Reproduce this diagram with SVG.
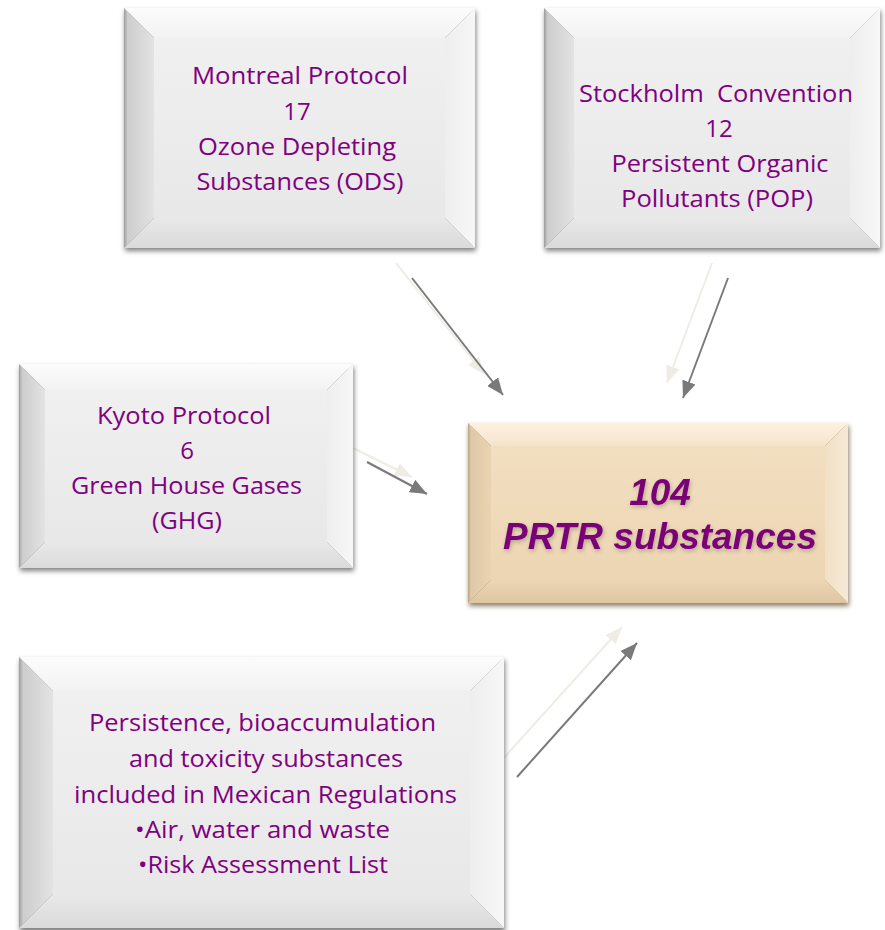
<svg xmlns="http://www.w3.org/2000/svg" width="885" height="930" viewBox="0 0 885 930">
<style>
.t{font-family:"Open Sans","Noto Sans","Liberation Sans",sans-serif;font-size:24px;fill:#800080;text-anchor:middle;white-space:pre}
.b{font-family:"Liberation Sans",Arial,sans-serif;font-size:37px;font-weight:bold;font-style:italic;fill:#7a0078;text-anchor:middle}
.dk{stroke:#7a7a7a;stroke-width:2;fill:none;marker-end:url(#ad)}
.lt{stroke:#efece5;stroke-width:2;fill:none;marker-end:url(#al)}
</style>
<defs>
<filter id="sh" x="-10%" y="-10%" width="120%" height="120%"><feGaussianBlur stdDeviation="2.5"/></filter>
<filter id="ts" x="-10%" y="-20%" width="120%" height="140%"><feGaussianBlur in="SourceAlpha" stdDeviation="2"/><feOffset dx="1" dy="2"/><feComponentTransfer><feFuncA type="linear" slope="0.25"/></feComponentTransfer><feMerge><feMergeNode/><feMergeNode in="SourceGraphic"/></feMerge></filter>
<linearGradient id="gT" x1="0" y1="0" x2="0" y2="1"><stop offset="0" stop-color="#fcfcfc"/><stop offset="1" stop-color="#f2f2f2"/></linearGradient>
<linearGradient id="gL" x1="0" y1="0" x2="1" y2="0"><stop offset="0" stop-color="#9c9c9c"/><stop offset="0.12" stop-color="#cdcdcd"/><stop offset="1" stop-color="#e3e3e3"/></linearGradient>
<linearGradient id="gB" x1="0" y1="0" x2="0" y2="1"><stop offset="0" stop-color="#e9e9e9"/><stop offset="1" stop-color="#dadada"/></linearGradient>
<linearGradient id="gR" x1="0" y1="0" x2="1" y2="0"><stop offset="0" stop-color="#eeeeee"/><stop offset="1" stop-color="#f7f7f7"/></linearGradient>
<linearGradient id="gF" x1="0" y1="0" x2="0" y2="1"><stop offset="0" stop-color="#f0f0f0"/><stop offset="1" stop-color="#e8e8e8"/></linearGradient>
<linearGradient id="tT" x1="0" y1="0" x2="0" y2="1"><stop offset="0" stop-color="#fcf1e1"/><stop offset="1" stop-color="#f5e4cb"/></linearGradient>
<linearGradient id="tL" x1="0" y1="0" x2="1" y2="0"><stop offset="0" stop-color="#b8a282"/><stop offset="0.12" stop-color="#dfc8a5"/><stop offset="1" stop-color="#ead3b0"/></linearGradient>
<linearGradient id="tB" x1="0" y1="0" x2="0" y2="1"><stop offset="0" stop-color="#ecd6b5"/><stop offset="1" stop-color="#dec6a2"/></linearGradient>
<linearGradient id="tR" x1="0" y1="0" x2="1" y2="0"><stop offset="0" stop-color="#f1e0c6"/><stop offset="1" stop-color="#f6e9d5"/></linearGradient>
<linearGradient id="tF" x1="0" y1="0" x2="0" y2="1"><stop offset="0" stop-color="#f2dfc1"/><stop offset="1" stop-color="#ecd5b2"/></linearGradient>
<marker id="ad" viewBox="0 0 10 10" refX="10" refY="5" markerWidth="17" markerHeight="14" markerUnits="userSpaceOnUse" orient="auto" preserveAspectRatio="none"><path d="M0,0 L10,5 L0,10z" fill="#7a7a7a"/></marker>
<marker id="al" viewBox="0 0 10 10" refX="10" refY="5" markerWidth="17" markerHeight="14" markerUnits="userSpaceOnUse" orient="auto" preserveAspectRatio="none"><path d="M0,0 L10,5 L0,10z" fill="#efece5"/></marker>
</defs>
<rect width="885" height="930" fill="#ffffff"/>

<g id="connectors">
<line class="lt" x1="396" y1="263" x2="484" y2="374"/>
<line class="dk" x1="412" y1="278" x2="503" y2="395"/>
<line class="lt" x1="712" y1="263" x2="667" y2="383"/>
<line class="dk" x1="728" y1="278" x2="683" y2="398"/>
<line class="lt" x1="353" y1="448" x2="412" y2="477"/>
<line class="dk" x1="367" y1="462" x2="427" y2="494"/>
<line class="lt" x1="502" y1="760" x2="622" y2="627"/>
<line class="dk" x1="517" y1="777" x2="637" y2="643"/>
</g>

<g id="montreal">
<rect x="125" y="11" width="351" height="240" fill="#808080" filter="url(#sh)"/>
<polygon points="124,8 475,8 445,38 154,38" fill="url(#gT)"/>
<polygon points="124,248 475,248 445,218 154,218" fill="url(#gB)"/>
<polygon points="124,8 154,38 154,218 124,248" fill="url(#gL)"/>
<polygon points="475,8 445,38 445,218 475,248" fill="url(#gR)"/>
<rect x="154" y="38" width="291" height="180" fill="url(#gF)"/>
<text class="t" x="300" y="84" textLength="216" lengthAdjust="spacingAndGlyphs">Montreal Protocol</text>
<text class="t" x="297" y="120">17</text>
<text class="t" x="297" y="155" textLength="198" lengthAdjust="spacingAndGlyphs">Ozone Depleting</text>
<text class="t" x="300" y="190" textLength="207" lengthAdjust="spacingAndGlyphs">Substances (ODS)</text>
</g>

<g id="stockholm">
<rect x="545" y="11" width="336" height="240" fill="#808080" filter="url(#sh)"/>
<polygon points="544,8 880,8 850,38 574,38" fill="url(#gT)"/>
<polygon points="544,248 880,248 850,218 574,218" fill="url(#gB)"/>
<polygon points="544,8 574,38 574,218 544,248" fill="url(#gL)"/>
<polygon points="880,8 850,38 850,218 880,248" fill="url(#gR)"/>
<rect x="574" y="38" width="276" height="180" fill="url(#gF)"/>
<text class="t" x="716" y="102" textLength="274" lengthAdjust="spacingAndGlyphs">Stockholm  Convention</text>
<text class="t" x="719" y="137">12</text>
<text class="t" x="720" y="172" textLength="217" lengthAdjust="spacingAndGlyphs">Persistent Organic</text>
<text class="t" x="717" y="207" textLength="192" lengthAdjust="spacingAndGlyphs">Pollutants (POP)</text>
</g>

<g id="kyoto">
<rect x="20" y="367" width="334" height="204" fill="#808080" filter="url(#sh)"/>
<polygon points="19,364 353,364 327,390 45,390" fill="url(#gT)"/>
<polygon points="19,568 353,568 327,542 45,542" fill="url(#gB)"/>
<polygon points="19,364 45,390 45,542 19,568" fill="url(#gL)"/>
<polygon points="353,364 327,390 327,542 353,568" fill="url(#gR)"/>
<rect x="45" y="390" width="282" height="152" fill="url(#gF)"/>
<text class="t" x="184" y="424" textLength="174" lengthAdjust="spacingAndGlyphs">Kyoto Protocol</text>
<text class="t" x="187" y="459">6</text>
<text class="t" x="186.5" y="494" textLength="231" lengthAdjust="spacingAndGlyphs">Green House Gases</text>
<text class="t" x="187" y="529" textLength="70" lengthAdjust="spacingAndGlyphs">(GHG)</text>
</g>

<g id="prtr">
<rect x="469" y="426" width="380" height="180" fill="#8a7a66" filter="url(#sh)"/>
<polygon points="468,423 848,423 825,446 491,446" fill="url(#tT)"/>
<polygon points="468,603 848,603 825,580 491,580" fill="url(#tB)"/>
<polygon points="468,423 491,446 491,580 468,603" fill="url(#tL)"/>
<polygon points="848,423 825,446 825,580 848,603" fill="url(#tR)"/>
<rect x="491" y="446" width="334" height="134" fill="url(#tF)"/>
<g filter="url(#ts)">
<text class="b" x="660" y="505">104</text>
<text class="b" x="660" y="549">PRTR substances</text>
</g>
</g>

<g id="regulations">
<rect x="20" y="660" width="485" height="272" fill="#808080" filter="url(#sh)"/>
<polygon points="19,657 504,657 470,691 53,691" fill="url(#gT)"/>
<polygon points="19,928 504,928 470,894 53,894" fill="url(#gB)"/>
<polygon points="19,657 53,691 53,894 19,928" fill="url(#gL)"/>
<polygon points="504,657 470,691 470,894 504,928" fill="url(#gR)"/>
<rect x="53" y="691" width="417" height="203" fill="url(#gF)"/>
<text class="t" x="262.5" y="731" textLength="347" lengthAdjust="spacingAndGlyphs">Persistence, bioaccumulation</text>
<text class="t" x="266" y="767" textLength="274" lengthAdjust="spacingAndGlyphs">and toxicity substances</text>
<text class="t" x="265.5" y="803" textLength="383" lengthAdjust="spacingAndGlyphs">included in Mexican Regulations</text>
<text class="t" x="262.5" y="838" textLength="255" lengthAdjust="spacingAndGlyphs">•Air, water and waste</text>
<text class="t" x="263" y="873" textLength="250" lengthAdjust="spacingAndGlyphs">•Risk Assessment List</text>
</g>
</svg>
